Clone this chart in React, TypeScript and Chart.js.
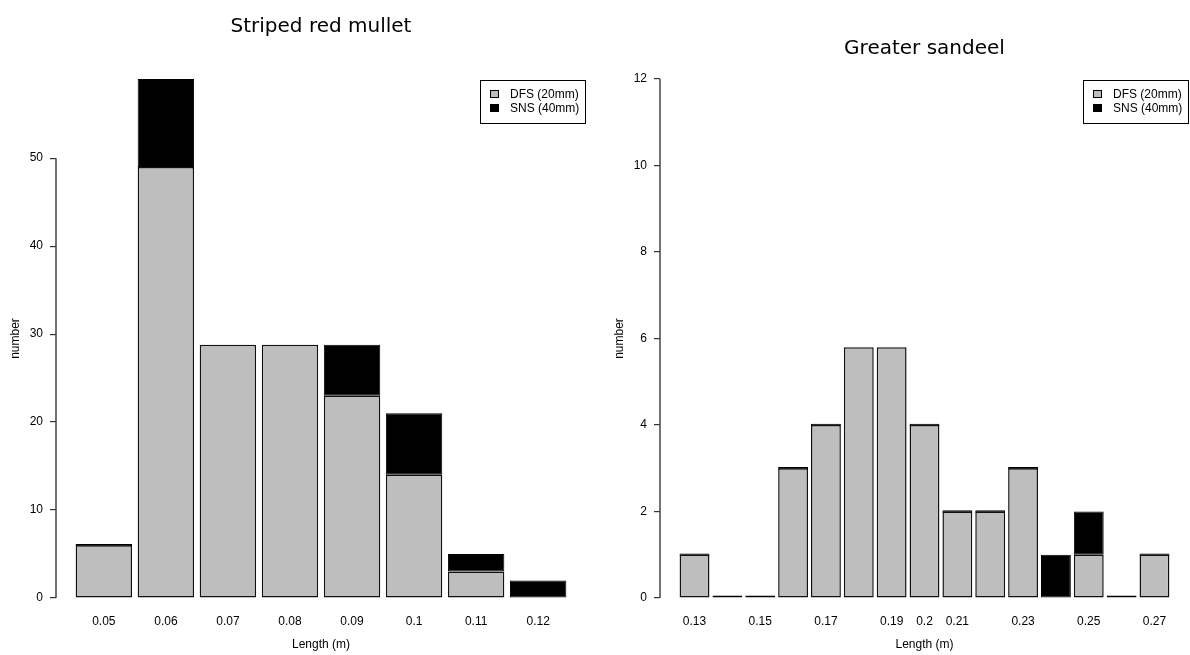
import React, { useEffect, useRef } from "react";
import { Chart, registerables } from "chart.js";

Chart.register(...registerables);

// ---- Striped red mullet: catch by length class ----
const mulletLengths = ["0.05", "0.06", "0.07", "0.08", "0.09", "0.1", "0.11", "0.12"];
const mulletDfs = [6, 49, 28.8, 28.8, 23, 14, 3, 0];
const mulletSns = [0, 10, null, null, 5.8, 7, 2, 2];
const mulletYTicks = [0, 10, 20, 30, 40, 50];
const mulletShownLengths = mulletLengths;

// ---- Greater sandeel: catch by length class ----
const sandeelLengths = [
  "0.13", "0.14", "0.15", "0.16", "0.17", "0.18", "0.19", "0.2",
  "0.21", "0.22", "0.23", "0.24", "0.25", "0.26", "0.27",
];
const sandeelDfs = [1, 0, 0, 3, 4, 5.8, 5.8, 4, 2, 2, 3, 0, 1, 0, 1];
const sandeelSns = [0, 0, 0, 0, 0, null, null, 0, 0, 0, 0, 1, 1, 0, 0];
const sandeelYTicks = [0, 2, 4, 6, 8, 10, 12];
const sandeelShownLengths = ["0.13", "0.15", "0.17", "0.19", "0.2", "0.21", "0.23", "0.25", "0.27"];

const DFS_LABEL = "DFS (20mm)";
const SNS_LABEL = "SNS (40mm)";
const DFS_COLOR = "#BEBEBE";
const SNS_COLOR = "#000000";

const PANEL_W = 595;
const PANEL_H = 655;
const BAR_SPACE = 0.1; // gap between bars as a fraction of bar width
const TICK_FONT = { family: "'Liberation Sans', Arial, sans-serif", size: 12 };

type Panel = {
  title: string;
  lengths: string[];
  dfs: (number | null)[];
  sns: (number | null)[];
  yMax: number;
  yTicks: number[];
  shown: string[];
  areaLeft: number;
  areaRight: number;
  titlePad: { top: number; bottom: number };
};

const panels: Panel[] = [
  {
    title: "Striped red mullet",
    lengths: mulletLengths,
    dfs: mulletDfs,
    sns: mulletSns,
    yMax: 59,
    yTicks: mulletYTicks,
    shown: mulletShownLengths,
    areaLeft: 56,
    areaRight: 586,
    titlePad: { top: 15, bottom: 40 },
  },
  {
    title: "Greater sandeel",
    lengths: sandeelLengths,
    dfs: sandeelDfs,
    sns: sandeelSns,
    yMax: 12,
    yTicks: sandeelYTicks,
    shown: sandeelShownLengths,
    areaLeft: 65,
    areaRight: 594,
    titlePad: { top: 37, bottom: 18 },
  },
];

// x range like R's barplot: bars plus a 4% margin on both sides
function xRange(n: number) {
  const half = 0.5 / (1 + BAR_SPACE);
  const span = n - 1 + 2 * half;
  const ext = span * 0.04;
  return { min: -half - ext, max: n - 1 + half + ext };
}

// Axis line between outer ticks, axis titles and a boxed legend
const panelDecor = {
  id: "panelDecor",
  afterDraw(chart: any) {
    const { ctx, chartArea } = chart;
    const yScale = chart.scales.y;
    const ticks = yScale.ticks;
    ctx.save();

    const ax = Math.floor(chartArea.left);
    ctx.strokeStyle = "#444";
    ctx.lineWidth = 1.5;
    ctx.beginPath();
    ctx.moveTo(ax, yScale.getPixelForValue(ticks[0].value));
    ctx.lineTo(ax, yScale.getPixelForValue(ticks[ticks.length - 1].value));
    ctx.stroke();

    ctx.fillStyle = "#000";
    ctx.font = "12px 'Liberation Sans', Arial, sans-serif";
    ctx.textAlign = "center";
    ctx.textBaseline = "middle";
    ctx.fillText("Length (m)", (chartArea.left + chartArea.right) / 2, chartArea.bottom + 47);

    ctx.save();
    ctx.translate(chartArea.left - 40, (chartArea.top + chartArea.bottom) / 2);
    ctx.rotate(-Math.PI / 2);
    ctx.fillText("number", 0, 0);
    ctx.restore();

    // legend
    const ds = chart.data.datasets;
    const textW = Math.max(...ds.map((d: any) => ctx.measureText(d.label).width));
    const boxW = Math.round(textW + 37);
    const boxH = 43;
    const bx = Math.round(chartArea.right - boxW);
    const by = Math.round(chartArea.top) + 1;
    ctx.fillStyle = "#fff";
    ctx.fillRect(bx, by, boxW, boxH);
    ctx.lineWidth = 1;
    ctx.strokeStyle = "#000";
    ctx.strokeRect(bx + 0.5, by + 0.5, boxW - 1, boxH);
    ds.forEach((d: any, i: number) => {
      const cy = by + 14 + i * 14;
      ctx.fillStyle = d.backgroundColor;
      ctx.fillRect(bx + 10, cy - 4, 9, 8);
      ctx.strokeStyle = "#000";
      ctx.strokeRect(bx + 10.5, cy - 3.5, 8, 7);
      ctx.fillStyle = "#000";
      ctx.textAlign = "left";
      ctx.fillText(d.label, bx + 30, cy + 1);
    });
    ctx.restore();
  },
};

function BarPanel({ spec }: { spec: Panel }) {
  const ref = useRef<HTMLCanvasElement | null>(null);

  useEffect(() => {
    if (!ref.current) return;
    const range = xRange(spec.lengths.length);
    const barShare = 1 / (1 + BAR_SPACE);
    const chart = new Chart(ref.current, {
      type: "bar",
      data: {
        datasets: [
          {
            label: DFS_LABEL,
            data: spec.dfs.map((v, i) => ({ x: i, y: v })),
            backgroundColor: DFS_COLOR,
            borderColor: "#111",
            borderWidth: 1.5,
            borderSkipped: false,
            categoryPercentage: 1,
            barPercentage: barShare,
          },
          {
            label: SNS_LABEL,
            data: spec.sns.map((v, i) => ({ x: i, y: v })),
            backgroundColor: SNS_COLOR,
            borderColor: "#000",
            borderWidth: 1,
            borderSkipped: false,
            minBarLength: 2.5,
            categoryPercentage: 1,
            barPercentage: barShare,
          },
        ] as any,
      },
      options: {
        responsive: false,
        animation: false,
        layout: { padding: { left: 0, right: PANEL_W - spec.areaRight, top: 0, bottom: 0 } },
        plugins: {
          legend: { display: false },
          tooltip: { enabled: false },
          title: {
            display: true,
            text: spec.title,
            fullSize: false,
            color: "#000",
            font: { family: "'DejaVu Sans', sans-serif", size: 20, weight: "normal" },
            padding: spec.titlePad,
          },
        },
        scales: {
          x: {
            type: "linear",
            stacked: true,
            offset: false,
            min: range.min,
            max: range.max,
            grid: { display: false, drawTicks: false, offset: false },
            border: { display: false },
            afterBuildTicks: (s: any) => {
              s.ticks = spec.shown.map((l) => ({ value: spec.lengths.indexOf(l) }));
            },
            afterFit: (s: any) => {
              s.height = 57;
            },
            ticks: {
              autoSkip: false,
              maxRotation: 0,
              color: "#000",
              font: TICK_FONT,
              padding: 16,
              callback: (v: any) => spec.lengths[v as number],
            },
          },
          y: {
            stacked: true,
            min: 0,
            max: spec.yMax,
            afterBuildTicks: (s: any) => {
              s.ticks = spec.yTicks.map((v) => ({ value: v }));
            },
            afterFit: (s: any) => {
              s.width = spec.areaLeft;
            },
            grid: { drawOnChartArea: false, drawTicks: true, tickLength: 6, color: "#333", lineWidth: 1.2 },
            border: { display: false },
            ticks: { color: "#000", font: TICK_FONT, padding: 7 },
          },
        },
      } as any,
      plugins: [panelDecor],
    });
    return () => chart.destroy();
  }, [spec]);

  return <canvas ref={ref} width={PANEL_W} height={PANEL_H} style={{ display: "block" }} />;
}

export default function App() {
  return (
    <div
      style={{
        position: "absolute",
        left: 0,
        top: 0,
        width: PANEL_W * 2,
        height: PANEL_H,
        display: "flex",
        background: "#fff",
      }}
    >
      {panels.map((p) => (
        <BarPanel key={p.title} spec={p} />
      ))}
    </div>
  );
}
